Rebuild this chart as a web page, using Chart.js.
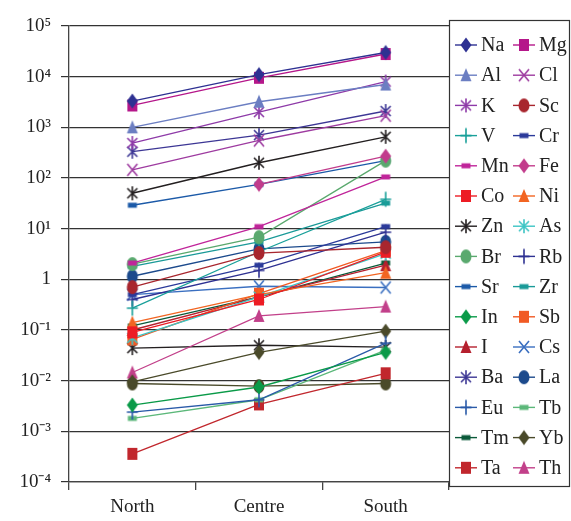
<!DOCTYPE html>
<html><head><meta charset="utf-8">
<script src="https://cdn.jsdelivr.net/npm/chart.js@4.4.0/dist/chart.umd.min.js"></script>
<style>html,body{margin:0;padding:0;background:#fff;}</style>
</head><body>
<canvas id="c" width="571" height="521" style="display:block;width:571px;height:521px"></canvas>
<script>
const categories = ['North', 'Centre', 'South'];
const yTickValues = [1e-4, 1e-3, 1e-2, 1e-1, 1, 10, 100, 1e3, 1e4, 1e5];
const yTickLabels = ['10⁻⁴', '10⁻³', '10⁻²', '10⁻¹', '1', '10¹', '10²', '10³', '10⁴', '10⁵'];

const Na = [3300, 11000, 30000];
const Mg = [2700, 9500, 28000];
const Al = [1000, 3200, 7000];
const Cl = [145, 550, 1700];
const K  = [490, 2000, 8000];
const Sc = [0.7, 3.3, 4.3];
const V  = [0.27, 3.5, 38];
const Cr = [0.5, 1.9, 11];
const Mn = [2.1, 11, 105];
const Fe = [null, 75, 270];
const Co = [0.09, 0.4, 3.5];
const Ni = [0.14, 0.5, 1.35];
const Zn = [50, 200, 650];
const As = [0.07, 0.45, 3.2];
const Br = [2.0, 6.8, 220];
const Rb = [0.4, 1.5, 8.5];
const Sr = [29, 75, 220];
const Zr = [1.8, 5.5, 32];
const In = [0.0033, 0.0075, 0.036];
const Sb = [0.065, 0.52, 3.7];
const I  = [0.1, 0.45, 1.9];
const Cs = [0.5, 0.73, 0.69];
const Ba = [330, 700, 2100];
const La = [1.15, 4.0, 5.5];
const Eu = [0.0024, 0.0042, 0.055];
const Tb = [0.0018, 0.0042, 0.04];
const Tm = [0.12, 0.45, 2.1];
const Yb = [0.0095, 0.036, 0.095];
const Ta = [0.00036, 0.0034, 0.014];
const Th = [0.0145, 0.19, 0.29];
// two unlabelled lines visible in the plot
const extraBlack = [0.044, 0.05, 0.046];
const extraOlive = [0.0088, 0.0078, 0.0088];

const seriesNames = ['Na','Mg','Al','Cl','K','Sc','V','Cr','Mn','Fe','Co','Ni','Zn','As','Br','Rb','Sr','Zr','In','Sb','I','Cs','Ba','La','Eu','Tb','Tm','Yb','Ta','Th'];
const seriesValues = [Na,Mg,Al,Cl,K,Sc,V,Cr,Mn,Fe,Co,Ni,Zn,As,Br,Rb,Sr,Zr,In,Sb,I,Cs,Ba,La,Eu,Tb,Tm,Yb,Ta,Th];

// style: [color, marker]
const styles = {
  Na: ['#2e3192','diamond'], Mg: ['#b5178a','square'], Al: ['#6b7ec2','triangle'],
  Cl: ['#9e3ba0','x'], K: ['#8e3aa8','asterisk'], Sc: ['#a8262e','ellipse'],
  V: ['#1aa09a','plus'], Cr: ['#2b3a9a','dash'], Mn: ['#c0259a','dash'],
  Fe: ['#c23c8c','diamond'], Co: ['#ed1c24','square'], Ni: ['#f26522','triangle'],
  Zn: ['#231f20','asterisk'], As: ['#3cc4c4','asterisk'], Br: ['#5aa96e','ellipse'],
  Rb: ['#2e3192','plus'], Sr: ['#1c5aa8','dash'], Zr: ['#1a9a98','dash'],
  In: ['#0a9a48','diamond'], Sb: ['#f15a24','square'], I: ['#b5202e','triangle'],
  Cs: ['#3a6fc0','x'], Ba: ['#3d3795','asterisk'], La: ['#1c4a8c','ellipse'],
  Eu: ['#2a5aa8','plus'], Tb: ['#5cb87a','dash'], Tm: ['#0b5a3a','dash'],
  Yb: ['#4a4a2a','diamond'], Ta: ['#c1272d','square'], Th: ['#c2408a','triangle'],
  extraBlack: ['#231f20','asterisk'], extraOlive: ['#4a4a2a','ellipse']
};

function makeMarker(type, color) {
  const c = document.createElement('canvas');
  c.width = 16; c.height = 18;
  const g = c.getContext('2d');
  g.fillStyle = color; g.strokeStyle = color; g.lineWidth = 1.6;
  const cx = 8, cy = 9;
  g.beginPath();
  if (type === 'diamond') {
    g.moveTo(cx, cy - 7.5); g.lineTo(cx + 5.5, cy); g.lineTo(cx, cy + 7.5); g.lineTo(cx - 5.5, cy); g.closePath(); g.fill();
  } else if (type === 'square') {
    g.fillRect(cx - 5, cy - 6, 10, 12);
  } else if (type === 'triangle') {
    g.moveTo(cx, cy - 7); g.lineTo(cx + 5.5, cy + 6); g.lineTo(cx - 5.5, cy + 6); g.closePath(); g.fill();
  } else if (type === 'ellipse') {
    g.ellipse(cx, cy, 5.5, 7, 0, 0, Math.PI * 2); g.fill();
  } else if (type === 'dash') {
    g.fillRect(cx - 4.5, cy - 2.5, 9, 5);
  } else if (type === 'x') {
    g.moveTo(cx - 5, cy - 6); g.lineTo(cx + 5, cy + 6); g.moveTo(cx + 5, cy - 6); g.lineTo(cx - 5, cy + 6); g.stroke();
  } else if (type === 'asterisk') {
    g.moveTo(cx - 5, cy - 5); g.lineTo(cx + 5, cy + 5); g.moveTo(cx + 5, cy - 5); g.lineTo(cx - 5, cy + 5);
    g.moveTo(cx, cy - 7); g.lineTo(cx, cy + 7); g.stroke();
  } else if (type === 'plus') {
    g.moveTo(cx - 5.5, cy); g.lineTo(cx + 5.5, cy); g.moveTo(cx, cy - 7.5); g.lineTo(cx, cy + 7.5); g.stroke();
  }
  return c;
}

function buildDataset(label, data, st) {
  const img = makeMarker(st[1], st[0]);
  return {
    label, data, borderColor: st[0], backgroundColor: st[0],
    pointStyle: img, pointRadius: 6, borderWidth: 1.3, fill: false, tension: 0, spanGaps: false
  };
}

const datasets = seriesNames.map((n, i) => buildDataset(n, seriesValues[i], styles[n]));
datasets.push(buildDataset('', extraOlive, styles.extraOlive));
datasets.push(buildDataset('', extraBlack, styles.extraBlack));

const legendPlugin = {
  id: 'boxLegend',
  afterDraw(chart) {
    const ctx = chart.ctx;
    ctx.save();
    ctx.strokeStyle = '#333'; ctx.lineWidth = 1.2;
    ctx.strokeRect(449.5, 20.5, 120, 466);
    ctx.font = '20px "Liberation Serif", serif';
    ctx.textBaseline = 'middle';
    seriesNames.forEach((n, i) => {
      const col = i % 2, row = Math.floor(i / 2);
      const y = 45 + row * 30.2;
      const x0 = col === 0 ? 455 : 513;
      const s = styles[n];
      ctx.strokeStyle = s[0]; ctx.lineWidth = 1.4;
      ctx.beginPath(); ctx.moveTo(x0, y); ctx.lineTo(x0 + 22, y); ctx.stroke();
      const img = chart.data.datasets[i].pointStyle;
      ctx.drawImage(img, x0 + 11 - img.width / 2, y - img.height / 2);
      ctx.fillStyle = '#222';
      ctx.fillText(n, x0 + 26, y + 1);
    });
    ctx.restore();
  }
};

new Chart(document.getElementById('c'), {
  type: 'line',
  data: { labels: categories, datasets },
  plugins: [legendPlugin],
  options: {
    responsive: false, devicePixelRatio: 1, animation: false,
    layout: { padding: { left: 0, right: 122, top: 26, bottom: 0 } },
    plugins: { legend: { display: false }, tooltip: { enabled: false } },
    scales: {
      x: {
        type: 'category', offset: true,
        grid: { offset: true, drawOnChartArea: false, tickLength: 8, color: '#444', lineWidth: 1.3 },
        border: { color: '#444', width: 1.3 },
        ticks: { color: '#222', font: { family: '"Liberation Serif", serif', size: 19 }, padding: 6 },
        afterFit(s) { s.height = 39; }
      },
      y: {
        type: 'logarithmic', min: 1e-4, max: 1e5,
        afterBuildTicks(s) { s.ticks = yTickValues.map(v => ({ value: v })); },
        grid: { color: '#333', lineWidth: 1.2, tickLength: 8 },
        border: { color: '#444', width: 1.3 },
        ticks: {
          color: '#222', font: { family: '"Liberation Serif", serif', size: 19 }, padding: 10,
          callback(v, i) { return yTickLabels[i]; }
        },
        afterFit(s) { s.width = 69; }
      }
    }
  }
});
</script>
</body></html>
